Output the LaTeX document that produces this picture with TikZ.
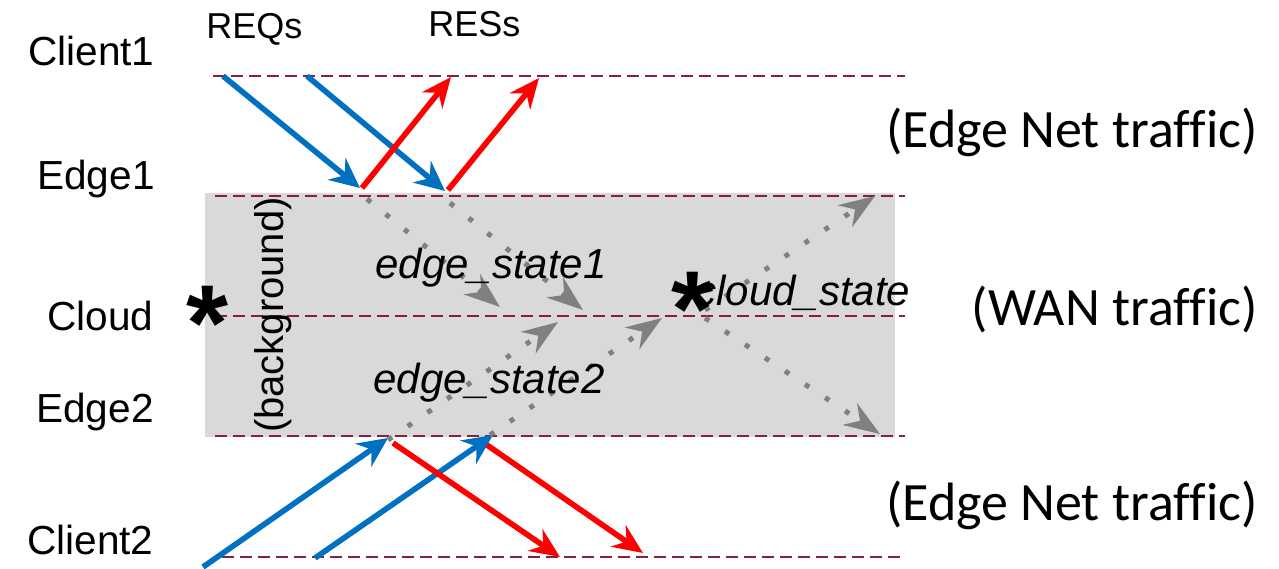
\documentclass[tikz,border=0pt]{standalone}
\usepackage{fontspec}
\setmainfont{Liberation Sans}
\newfontfamily\calfont[Ligatures=NoCommon]{Carlito}
\usepackage{xcolor}
\usetikzlibrary{arrows.meta}

\definecolor{reqblue}{RGB}{0,112,192}
\definecolor{resred}{RGB}{255,0,0}
\definecolor{stategray}{RGB}{128,128,128}
\definecolor{lanecol}{RGB}{134,31,65}
\definecolor{wanfill}{RGB}{217,217,217}

\tikzset{
  lane/.style={lanecol, line width=1pt, dash pattern=on 6pt off 3pt},
  req/.style={reqblue, line width=2.8pt, -{Stealth[length=15pt, width=14pt, inset=5pt]}},
  res/.style={resred, line width=2.8pt, -{Stealth[length=15pt, width=13pt, inset=5pt]}},
  sync/.style={stategray, line width=2.5pt, dash pattern=on 2.5pt off 9.5pt,
    -{Stealth[length=18pt, width=13pt, inset=6pt]}},
  host/.style={inner sep=0pt, anchor=base east, font=\fontsize{20.3pt}{20.3pt}\selectfont},
  flow/.style={inner sep=0pt, anchor=base west, font=\fontsize{18pt}{18pt}\selectfont},
  traffic/.style={inner sep=0pt, anchor=base east, font=\calfont\fontsize{27pt}{27pt}\selectfont},
  statelbl/.style={inner sep=0pt, anchor=base west, font=\itshape\fontsize{21pt}{21pt}\selectfont},
  snapmark/.style={inner sep=0pt, anchor=base, font=\bfseries\fontsize{54pt}{54pt}\selectfont}
}

\begin{document}
\begin{tikzpicture}[x=0.5pt, y=-0.5pt]
  \useasboundingbox (0,0) rectangle (1279,568);

  % WAN band
  \fill[wanfill] (205,193) rectangle (895,437);

  % Lanes
  \coordinate (c1L) at (213,76);  \coordinate (c1R) at (905,76);
  \coordinate (e1L) at (215,196); \coordinate (e1R) at (905,196);
  \coordinate (clL) at (215,316); \coordinate (clR) at (905,316);
  \coordinate (e2L) at (215,436); \coordinate (e2R) at (905,436);
  \coordinate (c2L) at (222,557); \coordinate (c2R) at (905,557);
  \draw[lane] (c1L) -- (c1R);
  \draw[lane] (e1L) -- (e1R);
  \draw[lane] (clL) -- (clR);
  \draw[lane] (e2L) -- (e2R);
  \draw[lane] (c2L) -- (c2R);

  % Host names
  \node[host] (client1) at (155,65) {Client1};
  \node[host] (edge1) at (155,189) {Edge1};
  \node[host] (cloud) at (154,330) {Cloud};
  \node[host] (edge2) at (154,422) {Edge2};
  \node[host] (client2) at (154,554) {Client2};

  \node[flow] (reqs) at (206,38) {REQs};
  \node[flow] (ress) at (428,36) {RESs};

  % Traffic kinds
  \node[traffic] (edgenet1) at (1258,147) {(Edge Net traffic)};
  \node[traffic] (wan) at (1258,325) {(WAN traffic)};
  \node[traffic] (edgenet2) at (1258,520) {(Edge Net traffic)};

  \node[rotate=90, inner sep=0pt, anchor=base, font=\fontsize{20pt}{20pt}\selectfont]
    (bg) at (283,315) {(background)};

  % Client1 <-> Edge1
  \coordinate (q1s) at (223,76);  \coordinate (q1e) at (360,188);
  \coordinate (q2s) at (307,76);  \coordinate (q2e) at (445,191);
  \coordinate (r1s) at (362,188); \coordinate (r1e) at (451,77);
  \coordinate (r2s) at (448,190); \coordinate (r2e) at (539,78);
  \draw[req] (q1s) -- (q1e);
  \draw[req] (q2s) -- (q2e);
  \draw[res] (r1s) -- (r1e);
  \draw[res] (r2s) -- (r2e);

  % Client2 <-> Edge2
  \coordinate (q3s) at (203,567); \coordinate (q3e) at (388,438);
  \coordinate (q4s) at (315,558); \coordinate (q4e) at (493,435);
  \coordinate (r3s) at (393,443); \coordinate (r3e) at (560,557);
  \coordinate (r4s) at (487,445); \coordinate (r4e) at (643,553);
  \draw[req] (q3s) -- (q3e);
  \draw[req] (q4s) -- (q4e);
  \draw[res] (r3s) -- (r3e);
  \draw[res] (r4s) -- (r4e);

  % State sync over the WAN
  \coordinate (s1s) at (367,199); \coordinate (s1e) at (500,307);
  \coordinate (s2s) at (450,203); \coordinate (s2e) at (583,310);
  \coordinate (s3s) at (388,440); \coordinate (s3e) at (558,322);
  \coordinate (s4s) at (490,435); \coordinate (s4e) at (662,318);
  \coordinate (cus) at (705,310); \coordinate (cue) at (875,196);
  \coordinate (cds) at (705,318); \coordinate (cde) at (880,434);
  \draw[sync] (s1s) -- (s1e);
  \draw[sync] (s2s) -- (s2e);
  \draw[sync] (s3s) -- (s3e);
  \draw[sync] (s4s) -- (s4e);
  \draw[sync] (cus) -- (cue);
  \draw[sync] (cds) -- (cde);

  \node[statelbl] (es1) at (375,278) {edge\_state1};
  \node[statelbl] (es2) at (373,393) {edge\_state2};
  \node[statelbl] (cs) at (695,305) {cloud\_state};

  % Snapshot marks
  \node[snapmark] (ast1) at (208,360) {*};
  \node[snapmark] (ast2) at (693,346) {*};
\end{tikzpicture}
\end{document}
